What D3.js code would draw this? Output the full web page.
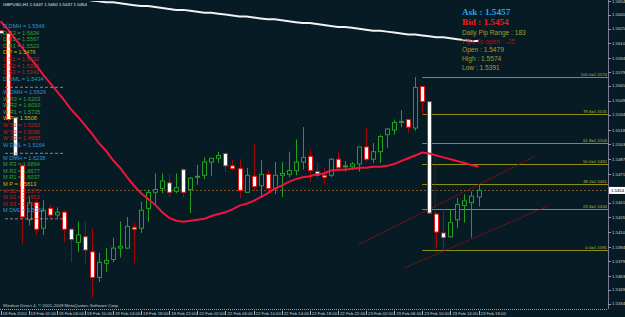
<!DOCTYPE html>
<html>
<head>
<meta charset="utf-8">
<script src="https://cdn.jsdelivr.net/npm/d3@7/dist/d3.min.js"></script>
<style>
  body { margin: 0; background: #071b24; }
  svg { display: block; }
</style>
</head>
<body>
<svg class="chart"></svg>
<script>
const width = 625;
const height = 317;

// GBPUSD H1 bars, 18 Feb 22:00 .. 23 Feb 18:00
const opens  = [1.5623,1.5620,1.5531,1.5480,1.5423,1.5441,1.5414,1.5435,1.5428,1.5431,
                1.5413,1.5399,1.5405,1.5389,1.5362,1.5377,1.5381,1.5393,1.5393,1.5415,
                1.5414,1.5435,1.5452,1.5456,1.5462,1.5453,1.5476,1.5455,1.5468,1.5470,
                1.5484,1.5488,1.5493,1.5480,1.5477,1.5452,1.5469,1.5459,1.5471,1.5456,
                1.5470,1.5471,1.5475,1.5484,1.5490,1.5474,1.5470,1.5470,1.5487,1.5479,
                1.5479,1.5482,1.5500,1.5487,1.5495,1.5513,1.5518,1.5526,1.5529,1.5520,
                1.5564,1.5548,1.5429,1.5409,1.5405,1.5423,1.5438,1.5441,1.5447];
const highs  = [1.5625,1.5624,1.5533,1.5483,1.5447,1.5444,1.5444,1.5439,1.5436,1.5433,
                1.5414,1.5421,1.5421,1.5414,1.5388,1.5393,1.5404,1.5421,1.5426,1.5420,
                1.5442,1.5455,1.5472,1.5472,1.5471,1.5472,1.5478,1.5468,1.5481,1.5489,
                1.5488,1.5495,1.5494,1.5486,1.5487,1.5478,1.5503,1.5486,1.5476,1.5484,
                1.5484,1.5495,1.5508,1.5521,1.5498,1.5484,1.5478,1.5488,1.5495,1.5485,
                1.5484,1.5500,1.5520,1.5504,1.5513,1.5520,1.5529,1.5539,1.5529,1.5574,
                1.5564,1.5548,1.5430,1.5434,1.5434,1.5446,1.5450,1.5453,1.5460];
const lows   = [1.5617,1.5526,1.5488,1.5398,1.5417,1.5407,1.5407,1.5425,1.5425,1.5399,
                1.5378,1.5389,1.5377,1.5341,1.5357,1.5368,1.5378,1.5383,1.5392,1.5377,
                1.5409,1.5421,1.5439,1.5451,1.5447,1.5451,1.5446,1.5430,1.5460,1.5466,
                1.5469,1.5483,1.5473,1.5475,1.5446,1.5452,1.5454,1.5446,1.5451,1.5450,
                1.5447,1.5468,1.5470,1.5476,1.5463,1.5467,1.5460,1.5468,1.5474,1.5474,
                1.5476,1.5474,1.5484,1.5483,1.5483,1.5499,1.5513,1.5521,1.5515,1.5517,
                1.5534,1.5429,1.5393,1.5391,1.5404,1.5414,1.5420,1.5404,1.5437];
const closes = [1.5620,1.5529,1.5491,1.5426,1.5441,1.5413,1.5433,1.5428,1.5431,1.5413,
                1.5402,1.5407,1.5391,1.5362,1.5378,1.5380,1.5393,1.5395,1.5416,1.5413,
                1.5433,1.5452,1.5455,1.5464,1.5452,1.5457,1.5452,1.5467,1.5469,1.5484,
                1.5488,1.5491,1.5480,1.5477,1.5454,1.5470,1.5458,1.5471,1.5456,1.5470,
                1.5472,1.5475,1.5484,1.5489,1.5475,1.5470,1.5468,1.5487,1.5478,1.5480,
                1.5482,1.5500,1.5487,1.5495,1.5511,1.5519,1.5526,1.5527,1.5521,1.5563,
                1.5548,1.5430,1.5410,1.5404,1.5420,1.5439,1.5443,1.5448,1.5454];

// red moving average (short)
const maFast = [1.5633,1.5625,1.5615,1.5606,1.5596,1.5587,1.5577,1.5568,1.5559,1.5550,
                1.5540,1.5532,1.5523,1.5514,1.5504,1.5496,1.5486,1.5478,1.5468,1.5459,
                1.5451,1.5445,1.5439,1.5431,1.5425,1.5422,1.5421,1.5422,1.5423,1.5424,
                1.5427,1.5429,1.5431,1.5434,1.5438,1.5440,1.5443,1.5447,1.5451,1.5456,
                1.5459,1.5463,1.5466,1.5468,1.5469,1.5471,1.5472,1.5475,1.5476,1.5476,
                1.5477,1.5478,1.5478,1.5479,1.5479,1.5480,1.5482,1.5485,1.5488,1.5491,
                1.5494,1.5493,1.5491,1.5489,1.5487,1.5485,1.5483,1.5481,1.5479];
// white moving average (long)
const maSlow = [1.5665,1.5664,1.5663,1.5663,1.5662,1.5661,1.5660,1.5660,1.5659,1.5658,
                1.5657,1.5656,1.5656,1.5655,1.5654,1.5653,1.5653,1.5652,1.5651,1.5650,
                1.5649,1.5649,1.5648,1.5647,1.5646,1.5645,1.5645,1.5644,1.5643,1.5642,
                1.5642,1.5641,1.5640,1.5639,1.5638,1.5638,1.5637,1.5636,1.5635,1.5635,
                1.5634,1.5633,1.5632,1.5631,1.5631,1.5630,1.5629,1.5628,1.5627,1.5627,
                1.5626,1.5625,1.5624,1.5623,1.5623,1.5622,1.5621,1.5620,1.5619,1.5619,
                1.5618,1.5617,1.5616,1.5616,1.5615,1.5614,1.5613,1.5612,1.5612];

const dateLabels = ['18 Feb 2010','19 Feb 02:00','19 Feb 06:00','19 Feb 10:00','19 Feb 14:00',
                    '19 Feb 18:00','19 Feb 22:00','22 Feb 02:00','22 Feb 06:00','22 Feb 10:00',
                    '22 Feb 14:00','22 Feb 18:00','22 Feb 22:00','23 Feb 02:00','23 Feb 06:00',
                    '23 Feb 10:00','23 Feb 14:00','23 Feb 18:00'];
const priceTicks = [1.5654,1.5640,1.5625,1.5610,1.5594,1.5579,1.5565,1.5549,1.5534,1.5518,
                    1.5503,1.5487,1.5471,1.5441,1.5426,1.5410,1.5394,1.5379,1.5363,1.5349,1.5334];

const fibLevels = [100.0, 78.6, 61.8, 50.0, 38.2, 23.6, 0.0];
const fibHigh = 1.5574;
const fibLow = 1.5391;
const fibStartBar = 60;

const pivotNames = ['DMH','R3','R2','R1','P','S1','S2','S3','DML'];
const pivotColors = ['#3b8fc6','#2fa52f','#2fa52f','#2fa52f','#c9b800','#c41c1c','#c41c1c','#c41c1c','#3b8fc6'];
const dailyPivots   = [1.5546,1.5634,1.5567,1.5523,1.5476,1.5432,1.5385,1.5341,1.5434];
const weeklyPivots  = [1.5626,1.6203,1.6010,1.5735,1.5508,1.5262,1.5086,1.4958,1.5164];
const monthlyPivots = [1.6238,1.6894,1.6677,1.6037,1.5813,1.5175,1.4953,1.4313,1.5260];

// trend channel anchors: [bar, price]
const channelUpper = [[51, 1.5397], [76, 1.5490]];
const channelLower = [[57.5, 1.5372], [78, 1.5438]];

const bid = 1.5454;
const ask = 1.5457;
const dayOpen = 1.5479;

const plotRight = 608;
const plotBottom = 309;

const svg = d3.select('.chart')
  .attr('width', width).attr('height', height)
  .style('font-family', '"Liberation Sans", Arial, sans-serif');

svg.append('rect').attr('width', width).attr('height', height).attr('fill', '#071b24');

const x = d3.scaleLinear().domain([0, 68]).range([0.5, 478.5]);
const y = d3.scaleLinear().domain([fibLow, fibHigh]).range([250, 77]);

svg.append('defs').append('clipPath').attr('id', 'plot')
  .append('rect').attr('x', 0).attr('y', 1).attr('width', plotRight).attr('height', plotBottom - 1);

const plot = svg.append('g').attr('clip-path', 'url(#plot)');

const bars = d3.range(opens.length).map(i => ({
  i: i, o: opens[i], h: highs[i], l: lows[i], c: closes[i]
}));

// long MA
plot.append('path')
  .datum(maSlow)
  .attr('d', d3.line().x((d, i) => x(i)).y(d => y(d)))
  .attr('fill', 'none')
  .attr('stroke', '#f2f2f2')
  .attr('stroke-width', 2);

// fibonacci levels
const fibRange = fibHigh - fibLow;
const fib = plot.append('g');
fibLevels.forEach(lv => {
  const p = fibLow + fibRange * lv / 100;
  fib.append('line')
    .attr('x1', x(fibStartBar)).attr('x2', plotRight)
    .attr('y1', Math.round(y(p)) + 0.5).attr('y2', Math.round(y(p)) + 0.5)
    .attr('stroke', '#8f8f14');
  fib.append('text')
    .attr('x', plotRight - 1).attr('y', Math.round(y(p)) - 1)
    .attr('text-anchor', 'end')
    .attr('font-size', 4.3)
    .attr('fill', '#b4b42a')
    .text(lv.toFixed(1) + '=' + p.toFixed(4));
});

// bid line
plot.append('line')
  .attr('x1', 0).attr('x2', plotRight)
  .attr('y1', y(bid)).attr('y2', y(bid))
  .attr('stroke', '#8a5424')
  .attr('stroke-dasharray', '2,2');

// channel
[channelUpper, channelLower].forEach(ch => {
  plot.append('line')
    .attr('x1', x(ch[0][0])).attr('y1', y(ch[0][1]))
    .attr('x2', x(ch[1][0])).attr('y2', y(ch[1][1]))
    .attr('stroke', '#9a0c0c')
    .attr('stroke-dasharray', '2,1');
});

// fib anchor line
plot.append('line')
  .attr('x1', x(61) + 6).attr('x2', x(61) + 6)
  .attr('y1', y(1.5492)).attr('y2', y(fibLow))
  .attr('stroke', '#9a0c0c')
  .attr('stroke-dasharray', '1,1');

// candles
const candle = plot.selectAll('.bar').data(bars).enter().append('g').attr('class', 'bar');
candle.append('line')
  .attr('x1', d => Math.round(x(d.i)) + 0.5).attr('x2', d => Math.round(x(d.i)) + 0.5)
  .attr('y1', d => y(d.h)).attr('y2', d => y(d.l))
  .attr('stroke', d => d.c >= d.o ? '#22a022' : '#a00808');
candle.append('rect')
  .attr('x', d => Math.round(x(d.i)) - 1.5)
  .attr('width', 4)
  .attr('y', d => y(Math.max(d.o, d.c)))
  .attr('height', d => Math.max(1, Math.abs(y(d.o) - y(d.c))))
  .attr('fill', d => d.c >= d.o ? '#071b24' : '#ffffff')
  .attr('stroke', d => d.c >= d.o ? '#22a022' : '#e01818')
  .attr('stroke-width', 1);

// short MA
plot.append('path')
  .datum(maFast)
  .attr('d', d3.line().x((d, i) => x(i)).y(d => y(d)))
  .attr('fill', 'none')
  .attr('stroke', '#f0143e')
  .attr('stroke-width', 2);

// pivot text blocks
const pivots = [['D', dailyPivots, 28], ['W', weeklyPivots, 94], ['M', monthlyPivots, 159.5]];
pivots.forEach(([tf, vals, top]) => {
  vals.forEach((v, k) => {
    svg.append('text')
      .attr('x', 3).attr('y', top + k * 6.6)
      .attr('font-size', 5.6)
      .attr('fill', pivotColors[k])
      .text(tf + ' ' + pivotNames[k] + ' = ' + v.toFixed(4));
  });
  svg.append('line')
    .attr('x1', 5).attr('x2', 65)
    .attr('y1', top + 8 * 6.6 + 6.5).attr('y2', top + 8 * 6.6 + 6.5)
    .attr('stroke', '#9a7c80')
    .attr('stroke-dasharray', '3,2');
});

// title
svg.append('text')
  .attr('x', 3).attr('y', 6)
  .attr('font-size', 4.4)
  .attr('fill', '#e8e8e8')
  .text('GBPUSD,H1  ' + [opens[68], highs[68], lows[68], closes[68]].map(v => v.toFixed(4)).join(' '));

// info panel
const info = svg.append('g').attr('transform', 'translate(462,0)');
info.append('text').attr('y', 14.5).attr('font-size', 9.2).attr('font-weight', 'bold')
  .attr('font-family', '"Liberation Serif", serif').attr('fill', '#1eaaf0')
  .text('Ask : ' + ask.toFixed(4));
info.append('text').attr('y', 24.5).attr('font-size', 9.2).attr('font-weight', 'bold')
  .attr('font-family', '"Liberation Serif", serif').attr('fill', '#ff1414')
  .text('Bid : ' + bid.toFixed(4));
const infoLines = [
  ['Daily Pip Range : ' + Math.round((fibHigh - fibLow) * 10000), '#a89c30'],
  ['Pips To open : ' + Math.round((bid - dayOpen) * 10000), '#b01212'],
  ['Open : ' + dayOpen.toFixed(4), '#a89c30'],
  ['High : ' + fibHigh.toFixed(4), '#a89c30'],
  ['Low : ' + fibLow.toFixed(4), '#a89c30']
];
infoLines.forEach(([t, c], k) => {
  info.append('text').attr('y', 35 + k * 8.7).attr('font-size', 6.6).attr('fill', c).text(t);
});

// right axis
svg.append('line')
  .attr('x1', plotRight + 0.5).attr('x2', plotRight + 0.5)
  .attr('y1', 0).attr('y2', plotBottom)
  .attr('stroke', '#7c7896');
const yTick = svg.selectAll('.ytick').data(priceTicks).enter().append('g').attr('class', 'ytick');
yTick.append('line')
  .attr('x1', plotRight).attr('x2', plotRight + 3)
  .attr('y1', d => Math.round(y(d)) + 0.5).attr('y2', d => Math.round(y(d)) + 0.5)
  .attr('stroke', '#9a9aa8');
yTick.append('text')
  .attr('x', plotRight + 4).attr('y', d => y(d) + 1.6)
  .attr('font-size', 4.3)
  .attr('fill', '#d0d0d0')
  .text(d => d.toFixed(4));

// bid box
svg.append('rect')
  .attr('x', plotRight + 1).attr('y', y(bid) - 3.5)
  .attr('width', 16).attr('height', 7)
  .attr('fill', '#ffffff');
svg.append('text')
  .attr('x', plotRight + 3).attr('y', y(bid) + 1.6)
  .attr('font-size', 4.3)
  .attr('fill', '#000')
  .text(bid.toFixed(4));

// bottom axis
svg.append('line')
  .attr('x1', 0).attr('x2', plotRight)
  .attr('y1', plotBottom + 0.5).attr('y2', plotBottom + 0.5)
  .attr('stroke', '#9a9aa8')
  .attr('stroke-dasharray', '1,1');
const xTick = svg.selectAll('.xtick').data(dateLabels).enter().append('g').attr('class', 'xtick');
xTick.append('line')
  .attr('x1', (d, k) => Math.round(x(k * 4)) + 0.5).attr('x2', (d, k) => Math.round(x(k * 4)) + 0.5)
  .attr('y1', plotBottom + 2).attr('y2', plotBottom + 6)
  .attr('stroke', '#b0b0b0');
xTick.append('text')
  .attr('x', (d, k) => x(k * 4) + 2).attr('y', plotBottom + 6)
  .attr('font-size', 4.3)
  .attr('fill', '#d0d0d0')
  .text(d => d);

// copyright
svg.append('text')
  .attr('x', 3).attr('y', 306.5)
  .attr('font-size', 4.4)
  .attr('fill', '#c8c8c8')
  .text('Windsor Direct 4, \u00a9 2001-2009 MetaQuotes Software Corp.');
</script>
</body>
</html>
